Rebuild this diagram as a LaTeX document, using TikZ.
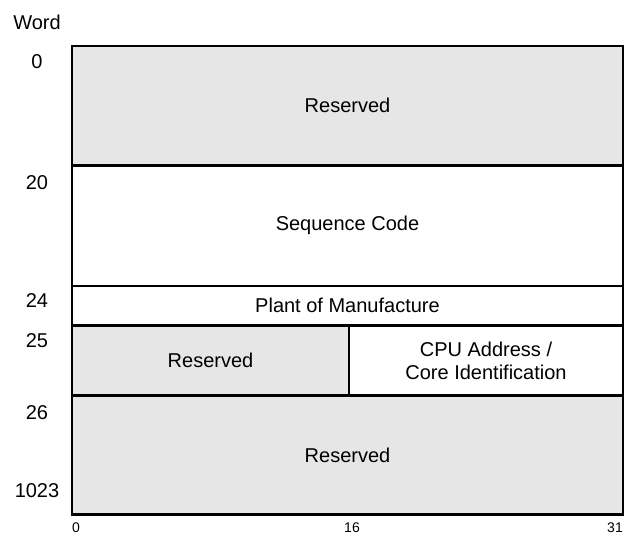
\documentclass[tikz,border=0pt]{standalone}
\usepackage{fontspec}
\setmainfont{Liberation Sans}
\usepackage{tikz}
\usetikzlibrary{positioning}
\definecolor{resgray}{RGB}{230, 230, 230}
\tikzset{
  field/.style={
    draw=black,
    line width=2.6pt,
    rectangle,
    inner sep=0pt,
    outer sep=0pt,
    align=center,
    font=\fontsize{20}{23}\selectfont
  },
  reserved/.style={
    field,
    fill=resgray
  },
  wordnum/.style={
    inner sep=0pt,
    font=\fontsize{20}{23}\selectfont
  },
  bitnum/.style={
    inner sep=0pt,
    font=\fontsize{14}{16}\selectfont
  }
}

\begin{document}
\begin{tikzpicture}[x=1pt, y=-1pt]
          \useasboundingbox (0,0) rectangle (626,535);
          % fields
          \node[reserved, minimum width=551pt, minimum height=119.5pt] (res0) at (347.5, 105.75) {Reserved};
          \node[field, minimum width=551pt, minimum height=120.5pt] (seq) at (347.5, 225.75) {Sequence Code};
          \node[field, minimum width=551pt, minimum height=39.5pt] (plant) at (347.5, 305.75) {Plant of Manufacture};
          \node[reserved, minimum width=277pt, minimum height=70pt] (res25) at (210.5, 360.5) {Reserved};
          \node[field, minimum width=274pt, minimum height=70pt] (cpu) at (486, 360.5) {CPU Address /\\Core Identification};
          \node[reserved, minimum width=551pt, minimum height=119pt] (res26) at (347.5, 455) {Reserved};

          % word numbers
          \node[wordnum] (word) at (37, 22) {Word};
          \node[wordnum] (w0) at (37, 62) {0};
          \node[wordnum] (w20) at (37, 183) {20};
          \node[wordnum] (w24) at (37, 301) {24};
          \node[wordnum] (w25) at (37, 341) {25};
          \node[wordnum] (w26) at (37, 413) {26};
          \node[wordnum] (w1023) at (37, 491) {1023};

          % bit numbers
          \node[bitnum] (b0) at (76, 528) {0};
          \node[bitnum] (b16) at (352, 528) {16};
          \node[bitnum] (b31) at (615, 528) {31};
        \end{tikzpicture}
\end{document}
